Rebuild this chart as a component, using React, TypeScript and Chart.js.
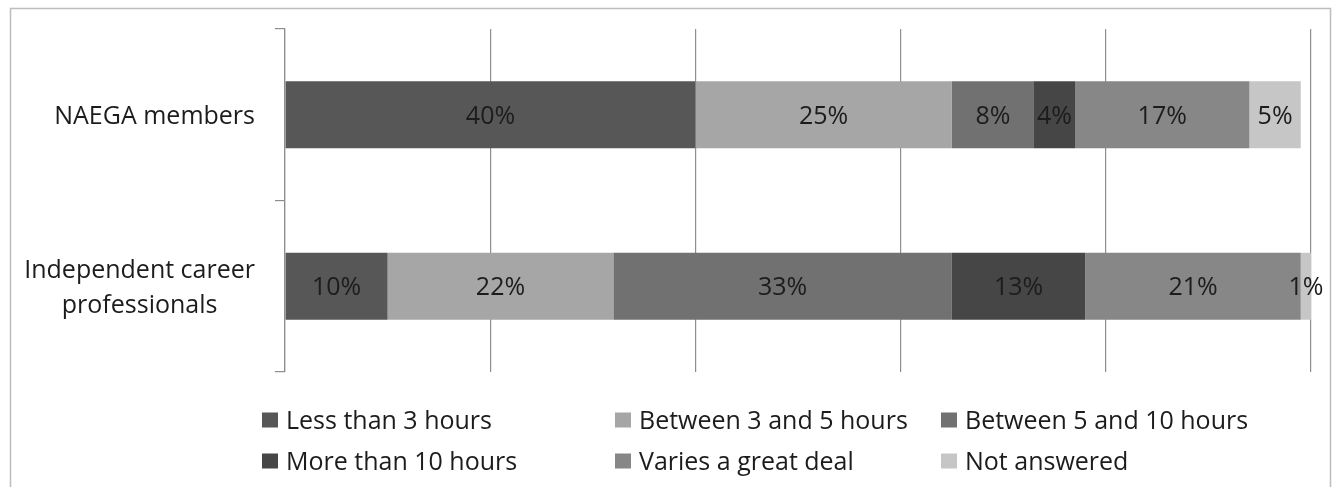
import { useEffect, useRef } from "react";
import { Chart, registerables } from "chart.js";

Chart.register(...registerables);

// Survey groups (each entry is the list of lines shown on the axis)
const categoryLines: string[][] = [
  ["NAEGA members"],
  ["Independent career", "professionals"],
];

// Share of respondents (%) per time band
const lessThan3Hours = [40, 10];
const between3And5Hours = [25, 22];
const between5And10Hours = [8, 33];
const moreThan10Hours = [4, 13];
const variesAGreatDeal = [17, 21];
const notAnswered = [5, 1];

const seriesNames = [
  "Less than 3 hours",
  "Between 3 and 5 hours",
  "Between 5 and 10 hours",
  "More than 10 hours",
  "Varies a great deal",
  "Not answered",
];
const seriesValues = [
  lessThan3Hours,
  between3And5Hours,
  between5And10Hours,
  moreThan10Hours,
  variesAGreatDeal,
  notAnswered,
];
const seriesColors = ["#575757", "#a6a6a6", "#717171", "#464646", "#878787", "#c6c6c6"];

const axisMax = 100;
const axisStep = 20;

const W = 1333;
const H = 487;
const FONT = '"Open Sans", sans-serif';
const TEXT = "#1c1c1c";
const GRID = "#8e8e8e";

const framePlugin = {
  id: "frame",
  beforeDraw(chart: Chart) {
    const ctx = chart.ctx;
    ctx.save();
    ctx.fillStyle = "#ffffff";
    ctx.fillRect(0, 0, W, H);
    ctx.strokeStyle = "#bdbdbd";
    ctx.lineWidth = 1.5;
    ctx.beginPath();
    ctx.moveTo(10.5, H);
    ctx.lineTo(10.5, 8.5);
    ctx.lineTo(1330.5, 8.5);
    ctx.lineTo(1330.5, H);
    ctx.stroke();
    ctx.restore();
  },
};

const valueLabelPlugin = {
  id: "valueLabels",
  afterDatasetsDraw(chart: Chart) {
    const ctx = chart.ctx;
    ctx.save();
    ctx.font = `25px ${FONT}`;
    ctx.fillStyle = TEXT;
    ctx.textAlign = "center";
    ctx.textBaseline = "alphabetic";
    chart.data.datasets.forEach((ds, i) => {
      const meta = chart.getDatasetMeta(i);
      meta.data.forEach((bar: any, j: number) => {
        const p = bar.getProps(["x", "y", "base"], true);
        ctx.fillText(`${ds.data[j]}%`, (p.x + p.base) / 2, p.y + 9);
      });
    });
    ctx.restore();
  },
};

const categoryLabelPlugin = {
  id: "categoryLabels",
  afterDraw(chart: Chart) {
    const ctx = chart.ctx;
    const yScale = chart.scales.y;
    const right = chart.chartArea.left - 30;
    const lineHeight = 35;
    ctx.save();
    ctx.font = `25px ${FONT}`;
    ctx.fillStyle = TEXT;
    ctx.textAlign = "center";
    ctx.textBaseline = "alphabetic";
    categoryLines.forEach((lines, i) => {
      const y = yScale.getPixelForValue(i);
      const blockW = Math.max(...lines.map((l) => ctx.measureText(l).width));
      const cx = right - blockW / 2;
      const first = y + 9 - ((lines.length - 1) * lineHeight) / 2;
      lines.forEach((l, k) => ctx.fillText(l, cx, first + k * lineHeight));
    });
    ctx.restore();
  },
};

const legendColumns = [262, 615, 941];
const legendRows = [420, 461];

const legendPlugin = {
  id: "gridLegend",
  afterDraw(chart: Chart) {
    const ctx = chart.ctx;
    ctx.save();
    ctx.font = `25px ${FONT}`;
    ctx.textAlign = "left";
    ctx.textBaseline = "alphabetic";
    seriesNames.forEach((name, i) => {
      const col = i % legendColumns.length;
      const row = Math.floor(i / legendColumns.length);
      const x = legendColumns[col];
      const y = legendRows[row];
      ctx.fillStyle = seriesColors[i];
      ctx.fillRect(x, y - 7.5, 16, 15);
      ctx.fillStyle = TEXT;
      ctx.fillText(name, x + 24, y + 8.5);
    });
    ctx.restore();
  },
};

export default function App() {
  const ref = useRef<HTMLCanvasElement>(null);

  useEffect(() => {
    const canvas = ref.current;
    if (!canvas) return;
    const chart = new Chart(canvas, {
      type: "bar",
      data: {
        labels: categoryLines.map((l) => l.join(" ")),
        datasets: seriesNames.map((name, i) => ({
          label: name,
          data: seriesValues[i],
          backgroundColor: seriesColors[i],
          borderWidth: 0,
          barPercentage: 0.39,
          categoryPercentage: 1,
        })),
      },
      options: {
        indexAxis: "y",
        responsive: false,
        animation: false,
        devicePixelRatio: 1,
        layout: { padding: { top: 29, right: 22, bottom: 115, left: 0 } },
        plugins: {
          legend: { display: false },
          tooltip: { enabled: false },
        },
        scales: {
          x: {
            stacked: true,
            min: 0,
            max: axisMax,
            ticks: { display: false, stepSize: axisStep },
            grid: { color: GRID, drawTicks: false, lineWidth: 1.2 },
            border: { display: false },
            afterFit: (s: any) => {
              s.height = 0;
            },
          },
          y: {
            stacked: true,
            ticks: { display: false },
            grid: {
              drawOnChartArea: false,
              offset: true,
              tickLength: 10,
              color: GRID,
              lineWidth: 1.2,
            },
            border: { display: true, color: GRID, width: 1.2 },
            afterFit: (s: any) => {
              s.width = 285;
            },
          },
        },
      },
      plugins: [framePlugin, valueLabelPlugin, categoryLabelPlugin, legendPlugin],
    });
    return () => chart.destroy();
  }, []);

  return (
    <div style={{ position: "fixed", left: 0, top: 0, width: W, height: H, background: "#fff" }}>
      <canvas ref={ref} width={W} height={H} style={{ display: "block" }} />
    </div>
  );
}
